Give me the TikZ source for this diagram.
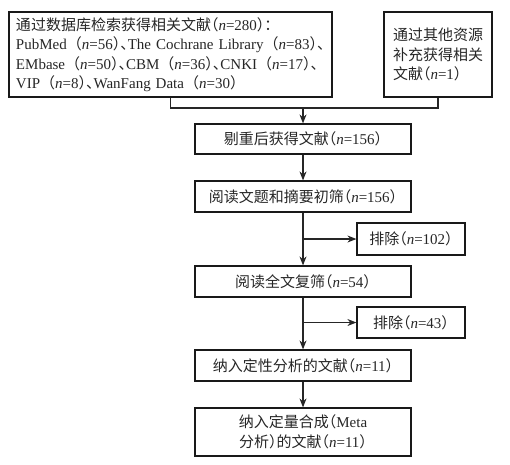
\documentclass[tikz,border=0pt]{standalone}
\usepackage{fontspec}
\setmainfont{Liberation Serif}
\newfontfamily\cjk{Noto Sans CJK SC}[RawFeature=+halt]
\usetikzlibrary{arrows.meta}
\newcommand\zhtext[1]{{\cjk #1}}
\newcommand\nn{\textit{n}}
\newcommand\flp{\hspace{0.5em}\zhtext{（}}
\begin{document}
\begin{tikzpicture}[x=1pt,y=-1pt,
  box/.style={draw=black!90, line width=1.2pt, inner sep=0pt, align=center,
    font=\fontsize{15}{19.5}\selectfont, text=black!85},
  arr/.style={line width=1.1pt, draw=black!85, -{Stealth[length=9pt,width=7pt]}},
  ln/.style={line width=1.1pt, draw=black!85}]
\useasboundingbox (0,0) rectangle (510,464);
\node[box, minimum width=323pt, minimum height=85pt, align=left, text width=309pt] (A) at (170.5,54.5)
 {\zhtext{通过数据库检索获得相关文献（}\nn=280\zhtext{）：}\\
  PubMed\flp\nn=56\zhtext{）、}The Cochrane Library\flp\nn=83\zhtext{）、}\\
  EMbase\flp\nn=50\zhtext{）、}CBM\flp\nn=36\zhtext{）、}CNKI\flp\nn=17\zhtext{）、}\\
  VIP\flp\nn=8\zhtext{）、}WanFang Data\flp\nn=30\zhtext{）}};
\node[box, minimum width=108pt, minimum height=85pt, align=left] (B) at (438,54.5)
 {\zhtext{通过其他资源}\\\zhtext{补充获得相关}\\\zhtext{文献（}\nn=1\zhtext{）}};
\coordinate (m) at (303,108);
\node[box, minimum width=216pt, minimum height=30pt] (C) at (303,139)
 {\zhtext{剔重后获得文献（}\nn=156\zhtext{）}};
\node[box, minimum width=216pt, minimum height=31pt] (D) at (303,196.5)
 {\zhtext{阅读文题和摘要初筛（}\nn=156\zhtext{）}};
\node[box, minimum width=108pt, minimum height=32pt] (X1) at (411,239)
 {\zhtext{排除（}\nn=102\zhtext{）}};
\node[box, minimum width=216pt, minimum height=31pt] (E) at (303,281.5)
 {\zhtext{阅读全文复筛（}\nn=54\zhtext{）}};
\node[box, minimum width=108pt, minimum height=31pt] (X2) at (411,322.5)
 {\zhtext{排除（}\nn=43\zhtext{）}};
\node[box, minimum width=216pt, minimum height=31pt] (F) at (303,365.5)
 {\zhtext{纳入定性分析的文献（}\nn=11\zhtext{）}};
\node[box, minimum width=216pt, minimum height=48pt] (G) at (303,432)
 {\zhtext{纳入定量合成（}Meta\\\zhtext{分析）的文献（}\nn=11\zhtext{）}};
\draw[ln] (A.south) |- (m) -| (B.south);
\draw[arr] (m) -- (C.north);
\draw[arr] (C.south) -- (D.north);
\draw[arr] (D.south) -- (E.north);
\draw[arr] (D.south |- X1.west) -- (X1.west);
\draw[arr] (E.south) -- (F.north);
\draw[arr] (E.south |- X2.west) -- (X2.west);
\draw[arr] (F.south) -- (G.north);
\end{tikzpicture}
\end{document}
